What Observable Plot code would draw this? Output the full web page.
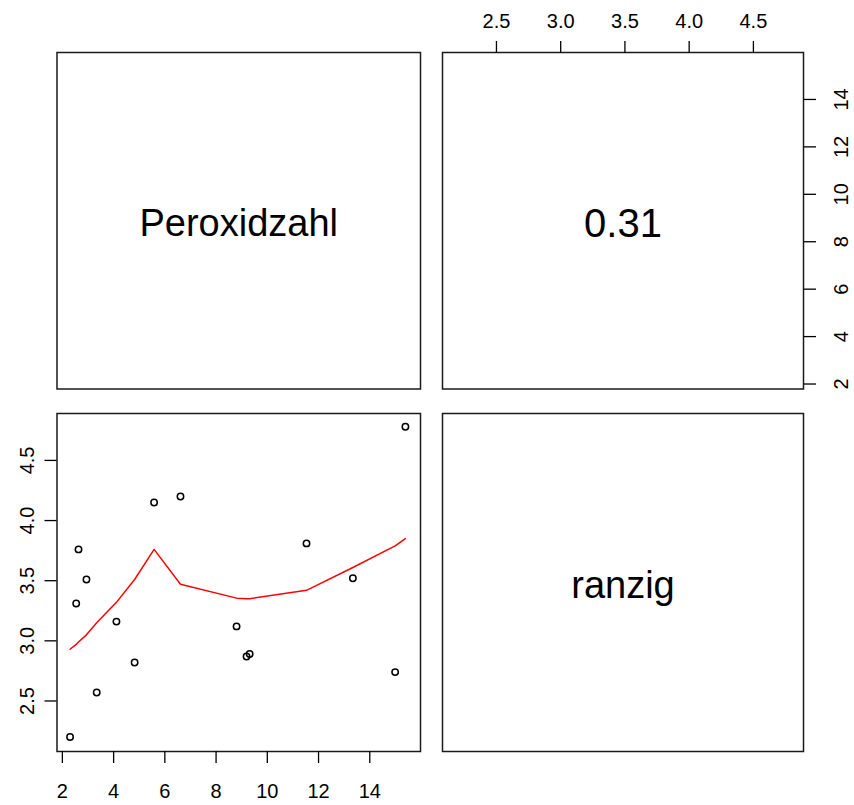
<!DOCTYPE html>
<html>
<head>
<meta charset="utf-8">
<script src="https://cdn.jsdelivr.net/npm/d3@7"></script>
<script src="https://cdn.jsdelivr.net/npm/@observablehq/plot@0.6"></script>
<style>
  html, body { margin: 0; padding: 0; background: white; overflow: hidden; }
  #chart { position: relative; width: 854px; height: 805px; }
  #chart svg { position: absolute; left: 0; top: 0; }
</style>
</head>
<body>
<div id="chart"></div>
<script>
// ---- data ----
const varNames = ["Peroxidzahl", "ranzig"];
const corText = "0.31";
const peroxidzahl = [2.30, 2.54, 2.63, 2.94, 3.34, 4.11, 4.82, 5.58, 6.61, 8.80, 9.19, 9.31, 11.53, 13.34, 14.99, 15.39];
const ranzig      = [2.20, 3.31, 3.76, 3.51, 2.57, 3.16, 2.82, 4.15, 4.20, 3.12, 2.87, 2.89, 3.81, 3.52, 2.74, 4.78];
const smoothY     = [2.93, 2.97, 2.99, 3.05, 3.15, 3.32, 3.51, 3.76, 3.47, 3.355, 3.35, 3.35, 3.42, 3.61, 3.79, 3.85];
const peroxTicks = [2, 4, 6, 8, 10, 12, 14];
const ranzigTicks = [2.5, 3.0, 3.5, 4.0, 4.5];
const peroxDomain = [1.79, 15.98];
const ranzigDomain = [2.08, 4.89];

const points = peroxidzahl.map((p, i) => ({p, r: ranzig[i]}));
const smooth = peroxidzahl.map((p, i) => ({p, s: smoothY[i]}));

const W = 854, H = 805;
const cols = [[56.5, 420], [442, 803]];
const rows = [[52, 388.5], [413, 751]];
const font = "'Liberation Sans', Arial, Helvetica, sans-serif";
const fmt1 = d3.format(".1f");
const tickFont = 20;

function panel(ci, ri, opts, marks) {
  const [x0, x1] = cols[ci], [y0, y1] = rows[ri];
  return Plot.plot({
    width: W, height: H,
    marginLeft: x0, marginRight: W - x1, marginTop: y0, marginBottom: H - y1,
    style: {background: "transparent", fontFamily: font, fontSize: tickFont + "px", color: "black", overflow: "visible"},
    ...opts,
    marks: [Plot.frame({stroke: "#1a1a1a", strokeWidth: 1.5}), ...marks]
  });
}

const chart = document.getElementById("chart");

// top-left: variable name
chart.appendChild(panel(0, 0, {x: {domain: [0, 1], axis: null}, y: {domain: [0, 1], axis: null}}, [
  Plot.text([varNames[0]], {frameAnchor: "middle", text: d => d, fontSize: 38, dy: 3, fill: "black"})
]));

// top-right: correlation with top and right axes
chart.appendChild(panel(1, 0, {x: {domain: ranzigDomain}, y: {domain: peroxDomain}}, [
  Plot.axisX({anchor: "top", ticks: ranzigTicks, tickFormat: fmt1, tickSize: 12, tickPadding: 12.5, fontSize: tickFont, label: null, strokeWidth: 1.3}),
  Plot.axisY({anchor: "right", ticks: peroxTicks, tickSize: 12, tickPadding: 18, tickRotate: -90, lineAnchor: "top", fontSize: tickFont, label: null, strokeWidth: 1.3}),
  Plot.text([corText], {frameAnchor: "middle", text: d => d, fontSize: 40, dy: 3, fill: "black"})
]));

// bottom-left: scatter + smooth
chart.appendChild(panel(0, 1, {x: {domain: peroxDomain}, y: {domain: ranzigDomain}}, [
  Plot.axisX({anchor: "bottom", ticks: peroxTicks, tickSize: 12, tickPadding: 20, fontSize: tickFont, label: null, strokeWidth: 1.3}),
  Plot.axisY({anchor: "left", ticks: ranzigTicks, tickFormat: fmt1, tickSize: 12, tickPadding: 11.5, tickRotate: -90, fontSize: tickFont, label: null, strokeWidth: 1.3}),
  Plot.line(smooth, {x: "p", y: "s", stroke: "red", strokeWidth: 1.5}),
  Plot.dot(points, {x: "p", y: "r", r: 3.2, stroke: "black", strokeWidth: 1.5, fill: "none"})
]));

// bottom-right: variable name
chart.appendChild(panel(1, 1, {x: {domain: [0, 1], axis: null}, y: {domain: [0, 1], axis: null}}, [
  Plot.text([varNames[1]], {frameAnchor: "middle", text: d => d, fontSize: 38, dy: 3, fill: "black"})
]));
</script>
</body>
</html>
